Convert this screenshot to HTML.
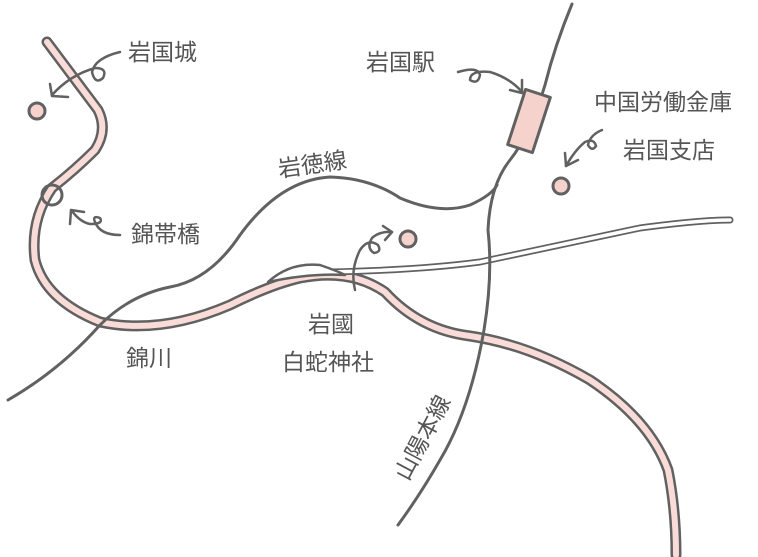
<!DOCTYPE html>
<html><head><meta charset="utf-8"><style>
html,body{margin:0;padding:0;background:#fff;}
svg{display:block}
text{font-family:"Liberation Sans","Noto Sans CJK JP",sans-serif;fill:#555;font-size:23px;}
</style></head><body>
<svg width="758" height="557" viewBox="0 0 758 557" xmlns="http://www.w3.org/2000/svg">
<g fill="none" stroke-linecap="round" stroke-linejoin="round">
<path d="M47,42 L98,110 Q108,130 95,150 Q75,170 52,188 Q30,220 35,260 Q45,300 100,322 Q160,335 230,305 Q270,285 300,278 Q350,268 385,292 Q420,330 470,336 Q530,345 590,380 Q650,420 668,470 Q676,510 676,555" stroke="#616161" stroke-width="11"/>
<path d="M47,42 L98,110 Q108,130 95,150 Q75,170 52,188 Q30,220 35,260 Q45,300 100,322 Q160,335 230,305 Q270,285 300,278 Q350,268 385,292 Q420,330 470,336 Q530,345 590,380 Q650,420 668,470 Q676,510 676,555" stroke="#f9dcd8" stroke-width="6"/>
<path d="M330,272 Q420,270 480,262 Q560,245 640,228 Q700,220 730,220" stroke="#616161" stroke-width="7"/>
<path d="M330,272 Q420,270 480,262 Q560,245 640,228 Q700,220 730,220" stroke="#fff" stroke-width="3.5"/>
<path d="M268,282 Q290,262 320,265 Q340,272 345,275 Q310,273 268,282 Z" stroke="#616161" stroke-width="2.5" fill="#fff"/>
<path d="M8,400 Q60,370 100,325 Q130,295 170,287 Q210,280 240,235 Q280,180 330,177 Q370,178 400,198 Q440,215 470,205 Q492,195 497,185" stroke="#616161" stroke-width="3"/>
<path d="M572,4 Q555,45 545,85 Q530,135 510,160 Q490,185 488,230 Q493,275 484,330 Q470,410 440,460 Q420,495 398,525" stroke="#616161" stroke-width="3"/>
<rect x="516" y="92" width="26" height="58" transform="rotate(18 529 121)" fill="#f6d2cd" stroke="#616161" stroke-width="3"/>
<circle cx="37" cy="111" r="8" fill="#f6d2cd" stroke="#616161" stroke-width="3"/>
<circle cx="52" cy="195" r="10" stroke="#616161" stroke-width="3"/>
<circle cx="408" cy="239" r="8" fill="#f6d2cd" stroke="#616161" stroke-width="3"/>
<circle cx="561" cy="186" r="8" fill="#f6d2cd" stroke="#616161" stroke-width="3"/>
<g stroke="#616161" stroke-width="2.5">
<path d="M120,52 Q95,58 92,72 Q95,85 103,78 Q108,68 95,68 Q70,75 52,95"/><path d="M50,84 L52,96 L68,97"/>
<path d="M120,235 Q100,235 95,222 Q92,215 100,218 Q104,224 90,224 Q80,222 72,211"/><path d="M70,224 L71,210 L84,212"/>
<path d="M458,72 Q478,66 480,75 Q478,85 470,80 Q470,70 490,72 Q510,78 522,92"/><path d="M510,90 L522,93 L522,80"/>
<path d="M602,130 Q590,135 588,145 Q592,152 596,146 Q594,138 585,142 Q575,150 566,166"/><path d="M565,153 L566,166 L578,160"/>
<path d="M355,290 Q350,270 360,250 Q368,238 378,245 Q382,252 374,253 Q366,248 372,238 Q380,231 392,232"/><path d="M383,226 L392,232 L385,240"/>
</g>
</g>
<text x="128" y="60">岩国城</text>
<text x="366" y="70">岩国駅</text>
<text x="594" y="110">中国労働金庫</text>
<text x="623" y="158">岩国支店</text>
<text x="278" y="172" transform="rotate(-8 315 165)">岩徳線</text>
<text x="131" y="242">錦帯橋</text>
<text x="126" y="366">錦川</text>
<text x="308" y="332">岩國</text>
<text x="282" y="370">白蛇神社</text>
<text x="0" y="0" transform="translate(408,482) rotate(-62)" font-size="21">山陽本線</text>
</svg>
</body></html>
